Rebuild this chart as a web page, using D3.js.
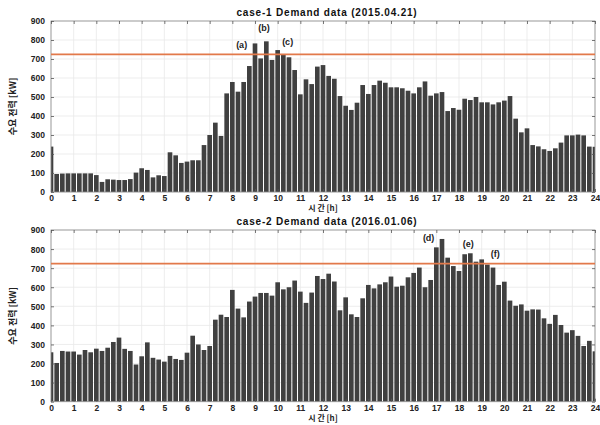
<!DOCTYPE html>
<html>
<head>
<meta charset="utf-8">
<script src="https://cdn.jsdelivr.net/npm/d3@7"></script>
<style>
  body { margin: 0; background: #fff; }
  svg { display: block; font-family: "Liberation Sans", Arial, sans-serif; }
</style>
</head>
<body>
<svg id="chart"></svg>
<script>
// demand readings every 15 minutes, 0:00 .. 24:00
const case1Demand = [239, 95, 97, 98, 98, 98, 98, 98, 89, 53, 67, 65, 63, 63, 68, 102,
  125, 116, 77, 88, 84, 209, 193, 153, 160, 167, 167, 247, 300, 365, 295, 519,
  579, 528, 579, 663, 782, 703, 793, 695, 747, 721, 709, 642, 514, 593, 568, 660,
  668, 611, 596, 505, 454, 432, 470, 563, 516, 563, 586, 575, 551, 551, 546, 533,
  519, 551, 582, 507, 519, 526, 426, 442, 433, 491, 484, 500, 472, 472, 461, 472,
  481, 505, 386, 314, 335, 247, 240, 225, 216, 230, 260, 298, 298, 302, 298, 239, 238];

const case2Demand = [259, 203, 266, 263, 263, 247, 271, 259, 278, 266, 283, 313, 336, 277, 266, 195,
  238, 311, 230, 221, 210, 240, 224, 219, 257, 346, 300, 271, 292, 430, 456, 444,
  586, 488, 442, 525, 551, 570, 570, 556, 626, 589, 600, 635, 577, 518, 572, 659,
  643, 671, 630, 479, 547, 458, 444, 542, 612, 594, 615, 626, 656, 603, 608, 652,
  675, 703, 600, 638, 809, 853, 755, 711, 685, 773, 778, 734, 746, 719, 703, 612,
  629, 530, 503, 510, 477, 484, 483, 437, 408, 455, 402, 362, 375, 345, 292, 319, 264];

const peakLimit = 724;
const hourTicks = d3.range(0, 25);
const kwTicks = [0, 100, 200, 300, 400, 500, 600, 700, 800, 900];

const case1Marks = [
  { label: '(a)', t: 8.41, v: 777 },
  { label: '(b)', t: 9.4, v: 863 },
  { label: '(c)', t: 10.44, v: 789 }
];
const case2Marks = [
  { label: '(d)', t: 16.66, v: 857 },
  { label: '(e)', t: 18.41, v: 830 },
  { label: '(f)', t: 19.6, v: 774 }
];

const width = 600, height = 425;
const marginLeft = 51, marginRight = 5;

const panels = [
  { title: 'case-1 Demand data (2015.04.21)', data: case1Demand, marks: case1Marks, top: 21, bottom: 192 },
  { title: 'case-2 Demand data (2016.01.06)', data: case2Demand, marks: case2Marks, top: 230, bottom: 401.7 }
];

const svg = d3.select('#chart')
  .attr('width', width)
  .attr('height', height)
  .attr('viewBox', [0, 0, width, height]);

const x = d3.scaleLinear().domain([0, 24]).range([marginLeft, width - marginRight]);
const step = x(0.25) - x(0);
const barW = step * 0.82;

panels.forEach((p, pi) => {
  const y = d3.scaleLinear().domain([0, 900]).range([p.bottom, p.top]);
  const g = svg.append('g');

  // grid
  g.append('g').selectAll('line').data(hourTicks).join('line')
    .attr('x1', d => x(d)).attr('x2', d => x(d))
    .attr('y1', p.top).attr('y2', p.bottom)
    .attr('stroke', '#e8e8e8').attr('stroke-width', 0.8);
  g.append('g').selectAll('line').data(kwTicks).join('line')
    .attr('x1', x(0)).attr('x2', x(24))
    .attr('y1', d => y(d)).attr('y2', d => y(d))
    .attr('stroke', '#e8e8e8').attr('stroke-width', 0.8);

  // bars, clipped to the axes box
  const clipId = 'clip' + pi;
  svg.append('clipPath').attr('id', clipId)
    .append('rect')
    .attr('x', x(0)).attr('y', p.top)
    .attr('width', x(24) - x(0)).attr('height', p.bottom - p.top);

  g.append('g').attr('clip-path', `url(#${clipId})`)
    .selectAll('rect').data(p.data).join('rect')
    .attr('x', (d, i) => x(i * 0.25) - barW / 2)
    .attr('width', barW)
    .attr('y', d => y(d))
    .attr('height', d => y(0) - y(d))
    .attr('fill', '#404040');

  // box + inward ticks
  g.append('rect')
    .attr('x', x(0)).attr('y', p.top)
    .attr('width', x(24) - x(0)).attr('height', p.bottom - p.top)
    .attr('fill', 'none').attr('stroke', '#8c8c8c').attr('stroke-width', 0.8);

  const axisBottom = d3.axisBottom(x).tickValues(hourTicks).tickSizeInner(-3).tickSizeOuter(0).tickPadding(3);
  const axisLeft = d3.axisLeft(y).tickValues(kwTicks).tickSizeInner(-3).tickSizeOuter(0).tickPadding(6);
  const axisTop = d3.axisTop(x).tickValues(hourTicks).tickSizeInner(-3).tickSizeOuter(0).tickFormat('');
  const axisRight = d3.axisRight(y).tickValues(kwTicks).tickSizeInner(-3).tickSizeOuter(0).tickFormat('');

  const ab = g.append('g').attr('transform', `translate(0,${p.bottom})`).call(axisBottom);
  const al = g.append('g').attr('transform', `translate(${x(0)},0)`).call(axisLeft);
  g.append('g').attr('transform', `translate(0,${p.top})`).call(axisTop);
  g.append('g').attr('transform', `translate(${x(24)},0)`).call(axisRight);

  g.selectAll('.domain').remove();
  g.selectAll('.tick line').attr('stroke', '#555').attr('stroke-width', 0.8);
  [ab, al].forEach(a => a.selectAll('text')
    .attr('fill', '#222')
    .style('font-size', '8.5px')
    .style('font-weight', 'bold'));
  ab.selectAll('text').attr('y', 3).attr('dy', '0.71em');
  al.selectAll('text').attr('dy', '0.35em');

  // peak limit line
  g.append('line')
    .attr('x1', x(0)).attr('x2', x(24))
    .attr('y1', y(peakLimit)).attr('y2', y(peakLimit))
    .attr('stroke', '#e2794a').attr('stroke-width', 1.8);

  // annotations
  g.append('g').selectAll('text').data(p.marks).join('text')
    .attr('x', d => x(d.t)).attr('y', d => y(d.v))
    .attr('text-anchor', 'middle').attr('dy', '0.35em')
    .style('font-size', '9px').style('font-weight', 'bold').attr('fill', '#222')
    .text(d => d.label);

  // title
  svg.append('text')
    .attr('x', 327).attr('y', p.top - 5)
    .attr('text-anchor', 'middle')
    .style('font-size', '10px').style('font-weight', 'bold')
    .style('letter-spacing', '0.8px').attr('fill', '#111')
    .text(p.title);

  // axis labels
  svg.append('text')
    .attr('x', 323).attr('y', p.bottom + 19)
    .attr('text-anchor', 'middle')
    .style('font-family', '"Noto Sans CJK KR", sans-serif')
    .style('font-size', '8px').style('font-weight', 'bold').attr('fill', '#222')
    .text('시 간 [h]');

  svg.append('text')
    .attr('transform', `translate(16,${(p.top + p.bottom) / 2}) rotate(-90)`)
    .attr('text-anchor', 'middle')
    .style('font-family', '"Noto Sans CJK KR", sans-serif')
    .style('font-size', '9px').style('font-weight', 'bold').attr('fill', '#222')
    .text('수요 전력 [kW]');
});
</script>
</body>
</html>
